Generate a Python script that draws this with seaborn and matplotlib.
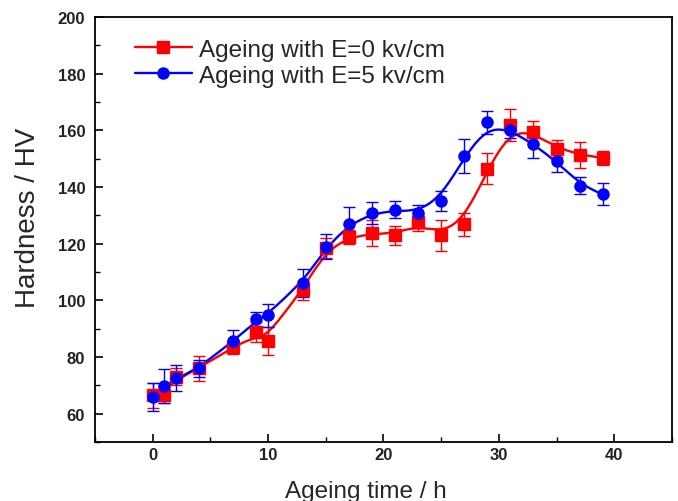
import numpy as np
import pandas as pd
import matplotlib
matplotlib.use("Agg")
import matplotlib.pyplot as plt
from matplotlib.lines import Line2D
from matplotlib.ticker import MultipleLocator
import seaborn as sns

# Ageing time (h) and Vickers hardness
TIME = [0, 1, 2, 4, 7, 9, 10, 13, 15, 17, 19, 21, 23, 25, 27, 29, 31, 33, 35, 37, 39]

HV_E0     = [66.5, 66.7, 73.0, 76.0, 83.5, 88.8, 85.6, 103.5, 118.6, 122.3, 123.8,
             122.9, 127.6, 122.9, 126.8, 146.4, 161.9, 159.3, 153.5, 151.4, 150.3]
HV_E0_ERR = [4.5, 3.0, 3.0, 4.5, 2.5, 3.5, 5.0, 3.5, 3.5, 2.5, 4.5,
             3.5, 3.0, 5.5, 4.0, 5.5, 5.5, 4.0, 3.0, 4.5, 2.5]

HV_E5     = [66.0, 69.8, 72.6, 76.0, 85.6, 93.5, 94.7, 106.1, 119.0, 127.0, 130.8,
             132.0, 130.8, 135.2, 150.9, 162.9, 160.3, 155.2, 149.3, 140.5, 137.6]
HV_E5_ERR = [5.0, 6.0, 4.5, 3.0, 4.0, 2.5, 4.0, 5.0, 4.5, 6.0, 4.0,
             3.0, 3.0, 3.5, 6.0, 4.0, 3.0, 5.0, 4.0, 3.0, 4.0]

LABEL_E0 = "Ageing with E=0 kv/cm"
LABEL_E5 = "Ageing with E=5 kv/cm"


def smooth_curve(x, y, bw=1.5, n=400):
    # local linear gaussian smoother, stands in for the spline fit of the original
    x = np.asarray(x, float)
    y = np.asarray(y, float)
    grid = np.linspace(x.min(), x.max(), n)
    out = np.empty_like(grid)
    for k, g in enumerate(grid):
        w = np.exp(-0.5 * ((x - g) / bw) ** 2)
        X = np.column_stack([np.ones_like(x), x - g])
        WX = X * w[:, None]
        beta = np.linalg.lstsq(WX.T @ X, WX.T @ y, rcond=None)[0]
        out[k] = beta[0]
    return grid, out


sns.set_theme(style="white")
plt.rcParams["font.family"] = ["Liberation Sans", "DejaVu Sans"]

fig = plt.figure(figsize=(6.78, 5.02), dpi=100)
ax = fig.add_axes([0.140, 0.1175, 0.851, 0.8465])

series = [
    (HV_E0, HV_E0_ERR, "#ff0000", "s", LABEL_E0),
    (HV_E5, HV_E5_ERR, "#0000ff", "o", LABEL_E5),
]

handles = []
for hv, err, color, marker, label in series:
    gx, gy = smooth_curve(TIME, hv)
    curve = pd.DataFrame({"t": gx, "hv": gy})
    sns.lineplot(data=curve, x="t", y="hv", color=color, lw=1.7, ax=ax,
                 estimator=None, sort=False)
    ax.errorbar(TIME, hv, yerr=err, fmt=marker, color=color, ms=8,
                ecolor=color, elinewidth=1.0, capsize=4, capthick=1.0,
                zorder=3)
    handles.append(Line2D([0], [0], color=color, marker=marker, ms=8,
                          lw=1.7, label=label))

ax.set_xlim(-5, 45)
ax.set_ylim(50, 200)
ax.xaxis.set_major_locator(MultipleLocator(10))
ax.xaxis.set_minor_locator(MultipleLocator(5))
ax.yaxis.set_major_locator(MultipleLocator(20))
ax.yaxis.set_minor_locator(MultipleLocator(10))
ax.set_yticks(np.arange(60, 201, 20))
ax.tick_params(which="both", direction="in", color="black", bottom=True, left=True,
               top=False, right=False)
ax.tick_params(which="major", length=6, width=1.2, labelsize=12, labelcolor="#222222")
ax.tick_params(axis="y", which="major", pad=7)
ax.tick_params(which="minor", length=3.5, width=1.0)
for lab in ax.get_xticklabels() + ax.get_yticklabels():
    lab.set_fontweight("bold")
for sp in ax.spines.values():
    sp.set_color("black")
    sp.set_linewidth(1.3)

ax.set_xlabel("Ageing time / h", fontsize=17.5)
ax.set_ylabel("Hardness / HV", fontsize=20)
ax.xaxis.set_label_coords(0.47, -0.09)
ax.yaxis.set_label_coords(-0.093, 0.53)

ax.legend(handles=handles, loc="upper left", bbox_to_anchor=(0.031, 1.0),
          frameon=False, fontsize=17.5, handlelength=2.35, handletextpad=0.3,
          labelspacing=0.15)

fig.savefig("out.png", dpi=100)
